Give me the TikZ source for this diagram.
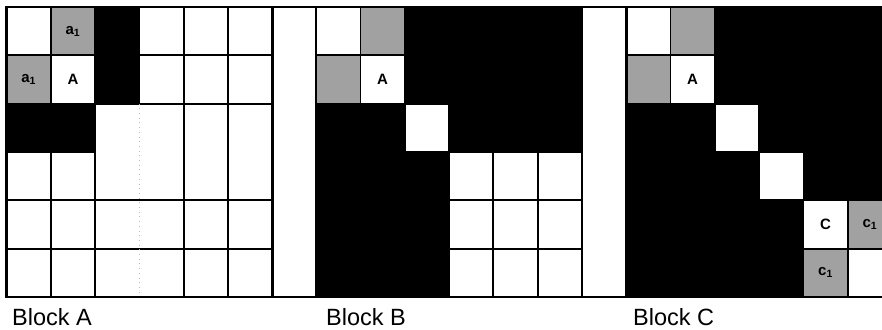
\documentclass[tikz,border=0pt]{standalone}
\usepackage{fontspec}
\setmainfont{Liberation Sans}

\begin{document}
\begin{tikzpicture}[x=1pt, y=-1pt,
  cell/.style={draw, line width=1.8pt},
  blockframe/.style={draw, line width=2.6pt},
  hole/.style={fill=black},
  dots/.style={fill=black!37},
  lab/.style={font=\fontsize{15}{15}\selectfont\bfseries, inner sep=0pt},
  blocklabel/.style={anchor=base west, inner sep=0pt, font=\fontsize{23.5}{24}\selectfont}]
\useasboundingbox (0,0) rectangle (882,329);
\clip (0,0) rectangle (882,329);

% strip edges running through the gaps
\draw[line width=1.8pt] (6.5,7) -- (882,7);
\draw[line width=1.8pt] (6.5,297) -- (882,297);

% Block A
\begin{scope}[shift={(6.5,7)}, x=44.3pt, y=-48.33pt]
\fill[dots] (1,0) rectangle (2,1) (0,1) rectangle (1,2);
\fill[hole] (2,0) rectangle (3,2) (0,2) rectangle (2,3);
\foreach \c/\r in {0/0,1/0,3/0,4/0,5/0,0/1,1/1,3/1,4/1,5/1,0/3,1/3,0/4,1/4,4/4,5/4,0/5,1/5,4/5,5/5}
  \draw[cell] (\c,\r) rectangle ++(1,1);
\draw[cell] (2,0) rectangle (3,2);
\draw[cell] (0,2) rectangle (2,3);
\draw[cell] (2,2) rectangle (4,4);
\draw[cell] (4,2) rectangle (5,4);
\draw[cell] (5,2) rectangle (6,4);
\draw[cell] (2,4) rectangle (4,5);
\draw[cell] (2,5) rectangle (4,6);
\draw[gray!55, loosely dotted, line width=0.7pt] (3,2) -- (3,6);
\draw[blockframe] (0,0) rectangle (6,6);
\node[lab] (aTop) at (1.5,0.5) {a\textsubscript{1}};
\node[lab] (aLeft) at (0.5,1.5) {a\textsubscript{1}};
\node[lab] (cellA1) at (1.5,1.5) {A};
\end{scope}

% Block B
\begin{scope}[shift={(316.1,7)}, x=44.3pt, y=-48.33pt]
\fill[dots] (1,0) rectangle (2,1) (0,1) rectangle (1,2);
\fill[hole] (2,0) rectangle (6,2) (0,2) rectangle (2,3) (3,2) rectangle (6,3) (0,3) rectangle (3,6);
\foreach \c/\r in {0/0,1/0,0/1,1/1,2/2,3/3,4/3,5/3,3/4,4/4,5/4,3/5,4/5,5/5}
  \draw[cell] (\c,\r) rectangle ++(1,1);
\draw[blockframe] (0,0) rectangle (6,6);
\node[lab] (cellA2) at (1.5,1.5) {A};
\end{scope}

% Block C
\begin{scope}[shift={(626.2,7)}, x=44.3pt, y=-48.33pt]
\fill[hole] (0,0) rectangle (6,6);
\fill[white] (0,0) rectangle (1,1) (1,1) rectangle (2,2) (2,2) rectangle (3,3)
  (3,3) rectangle (4,4) (4,4) rectangle (5,5) (5,5) rectangle (6,6);
\fill[dots] (1,0) rectangle (2,1) (0,1) rectangle (1,2) (5,4) rectangle (6,5) (4,5) rectangle (5,6);
\foreach \c/\r in {0/0,1/0,0/1,1/1,2/2,3/3,4/4,5/4,4/5,5/5}
  \draw[cell] (\c,\r) rectangle ++(1,1);
\draw[blockframe] (0,0) rectangle (6,6);
\node[lab] (cellA3) at (1.5,1.5) {A};
\node[lab] (cellC) at (4.5,4.5) {C};
\node[lab] (cRight) at (5.5,4.5) {c\textsubscript{1}};
\node[lab] (cBelow) at (4.5,5.5) {c\textsubscript{1}};
\end{scope}

% captions
\node[blocklabel] (capA) at (12,325) {Block A};
\node[blocklabel] (capB) at (326,325) {Block B};
\node[blocklabel] (capC) at (633,325) {Block C};
\end{tikzpicture}
\end{document}
